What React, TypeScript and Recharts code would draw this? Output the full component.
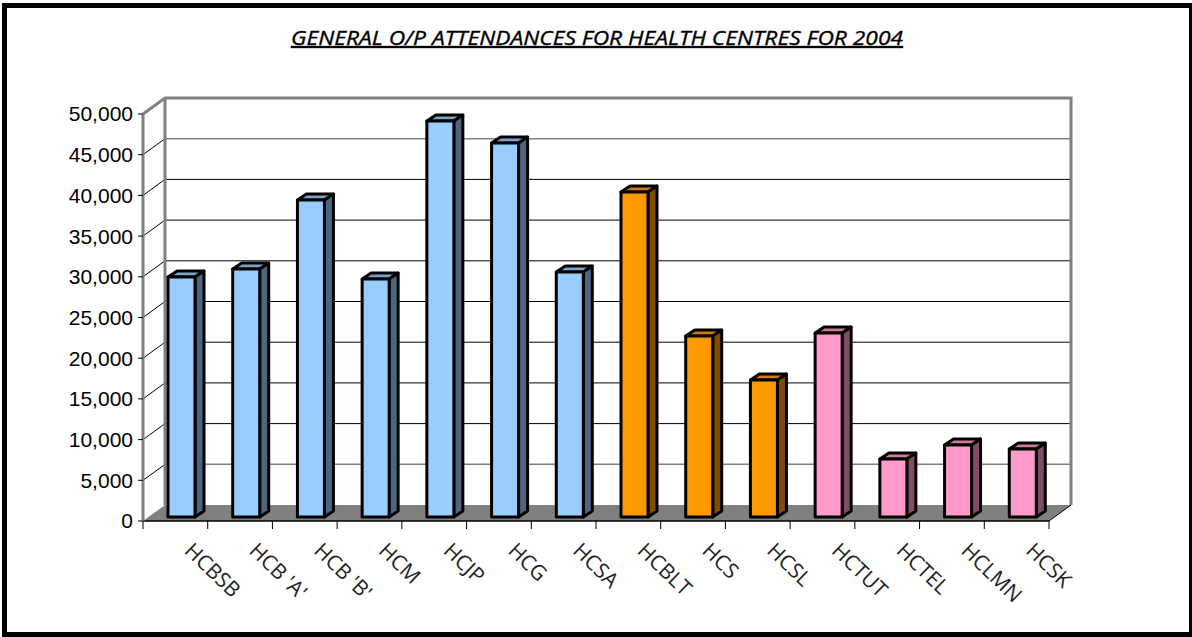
import { BarChart, Bar, XAxis, YAxis, CartesianGrid, usePlotArea } from 'recharts'

const categories = ['HCBSB', "HCB 'A'", "HCB 'B'", 'HCM', 'HCJP', 'HCG', 'HCSA', 'HCBLT', 'HCS', 'HCSL', 'HCTUT', 'HCTEL', 'HCLMN', 'HCSK']
const attendances = [29480, 30470, 38940, 29240, 48650, 45950, 30100, 39930, 22240, 16830, 22600, 7125, 8845, 8350]
const groups = ['blue', 'blue', 'blue', 'blue', 'blue', 'blue', 'blue', 'orange', 'orange', 'orange', 'pink', 'pink', 'pink', 'pink']
const yTicks = [0, 5000, 10000, 15000, 20000, 25000, 30000, 35000, 40000, 45000, 50000]

const chartData = categories.map((name, i) => ({ name, value: attendances[i], group: groups[i] }))

const palette: Record<string, { front: string; top: string; side: string }> = {
  blue: { front: '#99CCFF', top: '#7AA3CC', side: '#4D6680' },
  orange: { front: '#FF9900', top: '#CC7A00', side: '#804D00' },
  pink: { front: '#FF99CC', top: '#CC7AA3', side: '#804D66' },
}

const WALL_DX = 22
const WALL_DY = 16
const WALL_GRAY = '#808080'
const PLOT_TOP = 114
const PLOT_HEIGHT = 407

// floor and wall outline behind the bars
function Walls() {
  const plot = usePlotArea()
  if (!plot) return null
  const { x, y, width, height } = plot
  const bottom = y + height
  const right = x + width
  const band = width / categories.length
  return (
    <g>
      <polygon
        points={`${x},${bottom} ${x + WALL_DX},${bottom - WALL_DY} ${right + WALL_DX},${bottom - WALL_DY} ${right},${bottom}`}
        fill={WALL_GRAY}
      />
      <polyline
        points={`${x},${y} ${x + WALL_DX},${y - WALL_DY} ${right + WALL_DX},${y - WALL_DY} ${right + WALL_DX},${bottom - WALL_DY}`}
        fill="none"
        stroke={WALL_GRAY}
        strokeWidth={3}
      />
      <line x1={x + WALL_DX} y1={y - WALL_DY} x2={x + WALL_DX} y2={bottom - WALL_DY} stroke={WALL_GRAY} strokeWidth={3} />
      <line x1={right} y1={bottom} x2={right + WALL_DX} y2={bottom - WALL_DY} stroke="#000" strokeWidth={1} />
      {categories.map((_, i) => (
        <line key={i} x1={x + band * i} y1={bottom} x2={x + band * i} y2={bottom + 8} stroke="#000" strokeWidth={1} />
      ))}
      <line x1={right} y1={bottom} x2={right} y2={bottom + 8} stroke="#000" strokeWidth={1} />
    </g>
  )
}

function gridLine(props: any) {
  const { x1, x2, y1 } = props
  const value = Math.round(((PLOT_TOP + PLOT_HEIGHT - y1) / PLOT_HEIGHT) * 50000)
  if (value <= 0 || value >= 50000) return <g key={`grid-${value}`} />
  const faded = value === 45000 || value === 5000
  return (
    <g key={`grid-${value}`}>
      <line x1={x1} y1={y1} x2={x1 + WALL_DX} y2={y1 - WALL_DY} stroke="#000" strokeWidth={1} />
      <line
        x1={x1 + WALL_DX}
        y1={y1 - WALL_DY}
        x2={x2 + WALL_DX}
        y2={y1 - WALL_DY}
        stroke={faded ? WALL_GRAY : '#000'}
        strokeWidth={faded ? 1.6 : 1}
      />
    </g>
  )
}

function Bar3D(props: any) {
  const { x, y, width, height, index } = props
  const colors = palette[groups[index]]
  const dx = 6
  const dy = -4
  const depthX = 9
  const depthY = -6
  const left = x + dx
  const top = y + dy
  const right = left + width
  const bottom = top + height
  return (
    <g stroke="#000" strokeWidth={3} strokeLinejoin="round">
      <polygon
        points={`${left},${top} ${left + depthX},${top + depthY} ${right + depthX},${top + depthY} ${right},${top}`}
        fill={colors.top}
      />
      <polygon
        points={`${right},${top} ${right + depthX},${top + depthY} ${right + depthX},${bottom + depthY} ${right},${bottom}`}
        fill={colors.side}
      />
      <rect x={left} y={top} width={width} height={height} fill={colors.front} />
    </g>
  )
}

function CategoryTick(props: any) {
  const { x, payload } = props
  const px = x + 8
  const py = 552
  return (
    <text x={px} y={py} transform={`rotate(44 ${px} ${py})`} fontFamily="'Open Sans'" fontSize={21} fill="#222">
      {payload.value}
    </text>
  )
}

export default function App() {
  return (
    <div style={{ position: 'absolute', left: 0, top: 0, width: 1192, height: 637, background: '#fff' }}>
      <div
        style={{
          position: 'absolute',
          left: 2,
          top: 3,
          width: 1190,
          height: 634,
          boxSizing: 'border-box',
          borderStyle: 'solid',
          borderColor: '#000',
          borderWidth: '5px 3px 5px 5px',
        }}
      />
      <BarChart
        style={{ position: 'absolute', left: 0, top: 0 }}
        width={1192}
        height={637}
        data={chartData}
        margin={{ top: PLOT_TOP, right: 143, bottom: 0, left: 0 }}
      >
        <text
          x={597}
          y={45}
          textAnchor="middle"
          fontFamily="'Open Sans'"
          fontSize={20}
          fontStyle="italic"
          fontWeight={500}
          textDecoration="underline"
          fill="#000"
          stroke="#000"
          strokeWidth={0.35}
          textLength={612}
          lengthAdjust="spacingAndGlyphs"
          style={{ textDecorationThickness: 2.5 }}
        >
          GENERAL O/P ATTENDANCES FOR HEALTH CENTRES FOR 2004
        </text>
        <CartesianGrid vertical={false} horizontal={gridLine} />
        <Walls />
        <XAxis
          dataKey="name"
          height={116}
          interval={0}
          tick={CategoryTick}
          tickLine={false}
          axisLine={{ stroke: '#000', strokeWidth: 1.5 }}
        />
        <YAxis
          width={143}
          domain={[0, 50000]}
          ticks={yTicks}
          interval={0}
          tickFormatter={(v: number) => v.toLocaleString('en-US')}
          tick={{ fontSize: 21, fontFamily: "'Liberation Sans'", fill: '#000' }}
          tickSize={5}
          tickMargin={5}
          tickLine={{ stroke: '#000' }}
          axisLine={{ stroke: WALL_GRAY, strokeWidth: 3 }}
        />
        <Bar dataKey="value" barSize={27} shape={Bar3D} isAnimationActive={false} />
      </BarChart>
    </div>
  )
}
